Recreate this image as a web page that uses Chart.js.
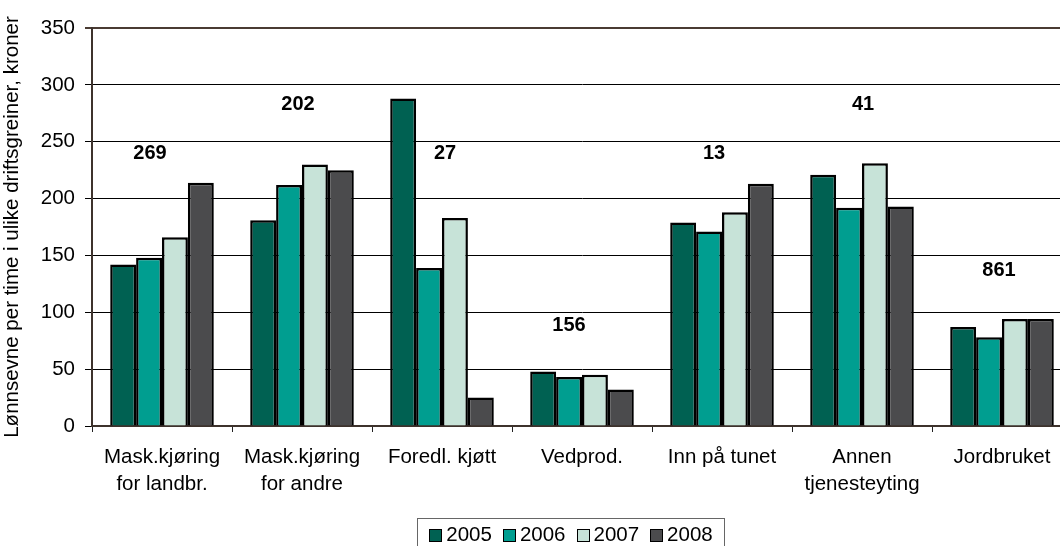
<!DOCTYPE html>
<html>
<head>
<meta charset="utf-8">
<script src="https://cdn.jsdelivr.net/npm/chart.js@4.4.1/dist/chart.umd.min.js"></script>
<style>
  html, body { margin: 0; padding: 0; background: #fff; overflow: hidden; }
  #wrap { position: relative; width: 1060px; height: 546px; overflow: hidden; }
  #c { position: absolute; left: 0; top: 0; }
  #legend {
    position: absolute; left: 417px; top: 518px; width: 308px; height: 34px;
    border: 1px solid #666; box-sizing: border-box;
    font: 20.5px "Liberation Sans", Arial, sans-serif; color: #000;
    display: flex; align-items: center; justify-content: center; gap: 11px; padding-bottom: 2px;
  }
  #legend span.sw { display: inline-block; width: 11px; height: 11px; border: 1px solid #000; margin-right: 4px; vertical-align: -1px; }
</style>
</head>
<body>
<div id="wrap">
  <canvas id="c" width="1080" height="546"></canvas>
  <div id="legend"></div>
</div>
<script>
const categories = [
  ["Mask.kjøring", "for landbr."],
  ["Mask.kjøring", "for andre"],
  "Foredl. kjøtt",
  "Vedprod.",
  "Inn på tunet",
  ["Annen", "tjenesteyting"],
  "Jordbruket"
];
const years = ["2005", "2006", "2007", "2008"];
const v2005 = [142, 181, 288, 48, 179, 221, 87];
const v2006 = [148, 212, 139, 43, 171, 192, 78];
const v2007 = [166, 230, 183, 45, 188, 231, 94];
const v2008 = [214, 225, 25, 32, 213, 193, 94];
// antall bruk per driftsgrein, og hvor hoyt tallet star (i kroner-skala)
const antall = ["269", "202", "27", "156", "13", "41", "861"];
const antallNivaa = [240, 283, 240, 88, 240, 283, 137];
const yTicks = [0, 50, 100, 150, 200, 250, 300, 350];

const farger = ["#006152", "#009e90", "#c7e3d8", "#4b4b4d"];
const serier = [v2005, v2006, v2007, v2008];

const font = "'Liberation Sans', Arial, sans-serif";

const antallPlugin = {
  id: "antall",
  afterDatasetsDraw(chart) {
    const ctx = chart.ctx;
    const x = chart.scales.x, y = chart.scales.y;
    const dx = [-12, -4, 3, -13, -8, 1, -3];
    ctx.save();
    ctx.font = "bold 20px " + font;
    ctx.fillStyle = "#000";
    ctx.textAlign = "center";
    ctx.textBaseline = "middle";
    antall.forEach((t, i) => {
      ctx.fillText(t, x.getPixelForValue(i) + dx[i], y.getPixelForValue(antallNivaa[i]));
    });
    ctx.restore();
  }
};

new Chart(document.getElementById("c"), {
  type: "bar",
  data: {
    labels: categories,
    datasets: years.map((yr, i) => ({
      label: yr,
      data: serier[i],
      backgroundColor: farger[i],
      borderColor: "#000",
      borderWidth: 2.5,
      borderSkipped: "bottom",
      categoryPercentage: 0.74,
      barPercentage: 1
    }))
  },
  options: {
    responsive: false,
    animation: false,
    layout: { padding: { top: 28, right: 8, bottom: 0, left: 0 } },
    plugins: { legend: { display: false }, tooltip: { enabled: false } },
    scales: {
      x: {
        afterFit(s) { s.height = 120; },
        grid: { offset: true, drawOnChartArea: false, drawTicks: true, tickLength: 6, color: "#222" },
        border: { color: "#3d322c", width: 2 },
        ticks: { color: "#000", font: { family: font, size: 20.5, lineHeight: 1.3 }, padding: 12, maxRotation: 0, autoSkip: false }
      },
      y: {
        min: 0, max: 350,
        afterFit(s) { s.width = 92; },
        afterBuildTicks(s) { s.ticks = yTicks.map(v => ({ value: v })); },
        grid: {
          color: c => c.tick && c.tick.value === 350 ? "#4a3b33" : "#000",
          lineWidth: c => c.tick && c.tick.value === 350 ? 2 : 1,
          tickLength: 7
        },
        border: { color: "#3d322c", width: 2 },
        ticks: { color: "#000", font: { family: font, size: 20.5 }, padding: 10 },
        title: {
          display: true,
          text: "Lønnsevne per time i ulike driftsgreiner, kroner",
          color: "#000",
          font: { family: font, size: 20.5 },
          padding: { top: 0, bottom: 0 }
        }
      }
    }
  },
  plugins: [antallPlugin]
});

const leg = document.getElementById("legend");
years.forEach((yr, i) => {
  const d = document.createElement("div");
  d.innerHTML = `<span class="sw" style="background:${farger[i]}"></span>${yr}`;
  leg.appendChild(d);
});
</script>
</body>
</html>
